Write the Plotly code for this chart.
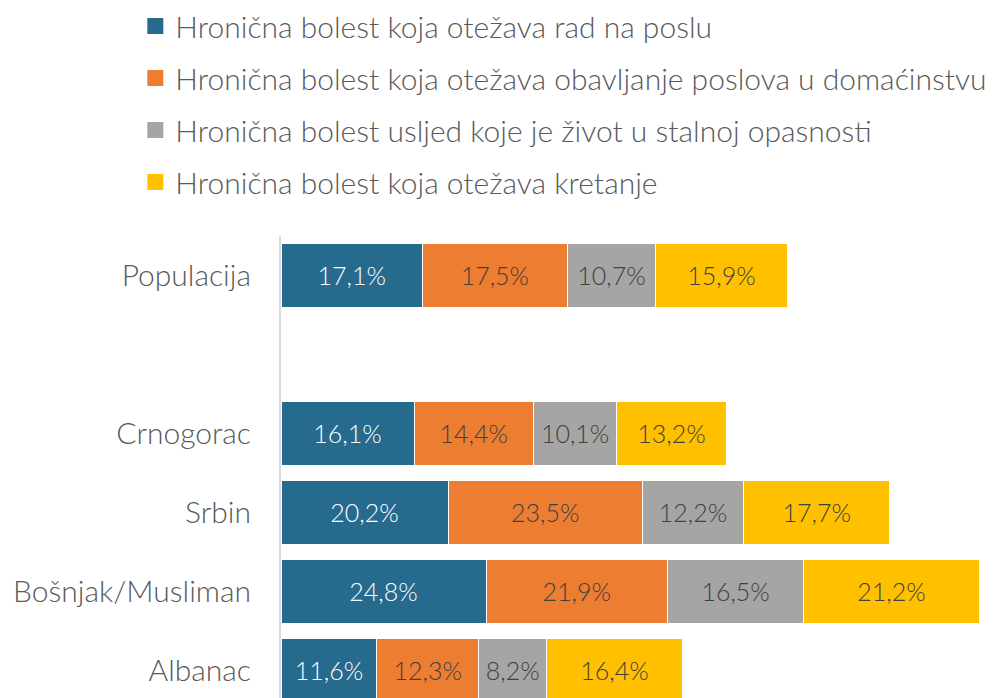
import plotly.graph_objects as go

categories = ["Populacija", " ", "Crnogorac", "Srbin", "Bošnjak/Musliman", "Albanac"]
series_names = [
    "Hronična bolest koja otežava rad na poslu",
    "Hronična bolest koja otežava obavljanje poslova u domaćinstvu",
    "Hronična bolest usljed koje je život u stalnoj opasnosti",
    "Hronična bolest koja otežava kretanje",
]
rad_na_poslu = [17.1, None, 16.1, 20.2, 24.8, 11.6]
domacinstvo = [17.5, None, 14.4, 23.5, 21.9, 12.3]
opasnost = [10.7, None, 10.1, 12.2, 16.5, 8.2]
kretanje = [15.9, None, 13.2, 17.7, 21.2, 16.4]

colors = ["#266A8E", "#ED7D31", "#A5A5A5", "#FFC000"]
text_colors = ["#FFFFFF", "#404040", "#404040", "#404040"]
FONT = "Lato"

fig = go.Figure()
for i, (name, vals) in enumerate(zip(series_names, [rad_na_poslu, domacinstvo, opasnost, kretanje])):
    fig.add_trace(go.Bar(
        y=categories, x=vals, orientation="h", name=name,
        marker=dict(color=colors[i], line=dict(color="white", width=1)),
        width=0.81,
        texttemplate="%{x:.1f}%", textposition="inside", insidetextanchor="middle",
        textfont=dict(family=FONT, size=25, color=text_colors[i], weight=300),
        showlegend=False, hoverinfo="skip",
    ))
    fig.add_trace(go.Scatter(
        x=[None], y=[None], mode="markers", name=name,
        marker=dict(symbol="square", size=18, color=colors[i]),
        legendgroup=f"g{i}", showlegend=True, hoverinfo="skip",
    ))

fig.update_layout(
    width=995, height=698,
    barmode="stack",
    separators=",.",
    plot_bgcolor="white", paper_bgcolor="white",
    margin=dict(l=281, r=0, t=236, b=0, autoexpand=False),
    uniformtext=dict(minsize=25, mode="show"),
    xaxis=dict(range=[0, 86.3], visible=False, showgrid=False, zeroline=False, fixedrange=True),
    yaxis=dict(
        categoryorder="array", categoryarray=categories[::-1],
        range=[-0.354, 5.5], automargin=False,
        showline=True, linecolor="#D9D9D9", linewidth=2,
        showgrid=False, zeroline=False, ticks="", ticklabelstandoff=22,
        tickfont=dict(family=FONT, size=30, color="#595959", weight=300),
    ),
    legend=dict(
        xref="container", yref="container", x=0.136, y=1.008, xanchor="left", yanchor="top",
        font=dict(family=FONT, size=30, color="#595959", weight=300),
        tracegroupgap=10, itemwidth=30, bgcolor="rgba(0,0,0,0)",
        itemclick=False, itemdoubleclick=False,
    ),
)

fig.write_html("out.html", config={"displayModeBar": False},
               post_script="document.body.style.margin='0';")
